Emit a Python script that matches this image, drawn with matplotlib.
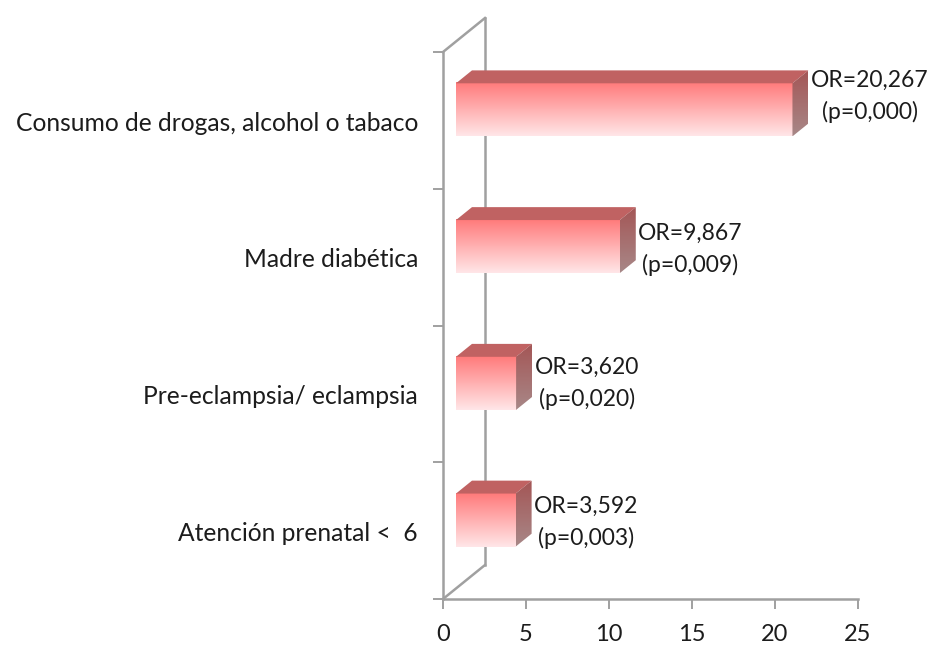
import matplotlib
matplotlib.use('Agg')
import matplotlib.pyplot as plt
import numpy as np
from matplotlib.patches import Polygon
from matplotlib.colors import LinearSegmentedColormap

# Data (bottom to top)
categories = ['Atención prenatal <  6', 'Pre-eclampsia/ eclampsia',
              'Madre diabética', 'Consumo de drogas, alcohol o tabaco']
odds_ratios = [3.592, 3.620, 9.867, 20.267]
p_values = ['0,003', '0,020', '0,009', '0,000']
or_labels = ['3,592', '3,620', '9,867', '20,267']
x_ticks = [0, 5, 10, 15, 20, 25]

# vertical nudge of the data labels (layout only)
label_dy = [-0.015, 0.0, -0.02, 0.095]

plt.rcParams['font.family'] = ['Lato', 'DejaVu Sans']

W, H = 933, 646
fig = plt.figure(figsize=(W / 100, H / 100), dpi=100)
ax = fig.add_axes([443 / W, (H - 599) / H, 415 / W, 547 / H])
ax.set_xlim(0, 25)
ax.set_ylim(0, 4)

axis_gray = '#a0a0a0'
text_col = '#1c1c1c'
for s in ['top', 'right']:
    ax.spines[s].set_visible(False)
for s in ['left', 'bottom']:
    ax.spines[s].set_color(axis_gray)
    ax.spines[s].set_linewidth(1.8)

ax.set_xticks(x_ticks)
ax.set_xticklabels([str(t) for t in x_ticks], fontsize=17, color=text_col)
ax.set_yticks(range(5))
ax.set_yticklabels([])
ax.tick_params(axis='both', direction='out', length=7, width=1.4, color=axis_gray)
ax.tick_params(axis='x', pad=11)

# depth offsets in data units
Dx, Dy = 42 / 16.6, 34 / 136.75
f0, f1 = 0.31, 0.69

# back wall
ax.plot([Dx, Dx], [Dy, 4 + Dy], color=axis_gray, lw=1.8, clip_on=False, zorder=1)
ax.plot([0, Dx], [0, Dy], color=axis_gray, lw=1.8, clip_on=False, zorder=1)
ax.plot([0, Dx], [4, 4 + Dy], color=axis_gray, lw=1.8, clip_on=False, zorder=1)

front_cmap = LinearSegmentedColormap.from_list('front', ['#ffe6e8', '#ff7a7a'])
side_cmap = LinearSegmentedColormap.from_list('side', ['#a88888', '#a45656'])
grad = np.linspace(0, 1, 256).reshape(-1, 1)

bar_h = 0.388
bdx, bdy = (f1 - f0) * Dx, (f1 - f0) * Dy

for i, (cat, v) in enumerate(zip(categories, odds_ratios)):
    x0 = f0 * Dx
    x1 = x0 + v
    yc = i + 0.5 + f0 * Dy
    yb, yt = yc - bar_h / 2, yc + bar_h / 2

    # front face gradient
    ax.imshow(grad, cmap=front_cmap, origin='lower', aspect='auto',
              extent=[x0, x1, yb, yt], zorder=3, interpolation='bilinear')
    # top face
    top = Polygon([(x0, yt), (x1, yt), (x1 + bdx, yt + bdy), (x0 + bdx, yt + bdy)],
                  closed=True, facecolor='#c06262', edgecolor='none', zorder=3)
    ax.add_patch(top)
    # side face
    side = Polygon([(x1, yb), (x1, yt), (x1 + bdx, yt + bdy), (x1 + bdx, yb + bdy)],
                   closed=True, facecolor='none', edgecolor='none', zorder=3)
    ax.add_patch(side)
    im = ax.imshow(grad, cmap=side_cmap, origin='lower', aspect='auto',
                   extent=[x1, x1 + bdx, yb, yt + bdy], zorder=3,
                   interpolation='bilinear')
    im.set_clip_path(side)

    ax.text(x1 + bdx + 0.15, yc + label_dy[i], f'OR={or_labels[i]}\n(p={p_values[i]})',
            ha='left', va='center', multialignment='center', fontsize=16.5,
            color=text_col, zorder=5, linespacing=1.55, clip_on=False)

    ax.text(-1.5, i + 0.48, cat, ha='right', va='center', fontsize=17.7,
            color=text_col, clip_on=False)

ax.set_xlim(0, 25)
ax.set_ylim(0, 4)

fig.savefig('out.png', dpi=100, facecolor='white')
